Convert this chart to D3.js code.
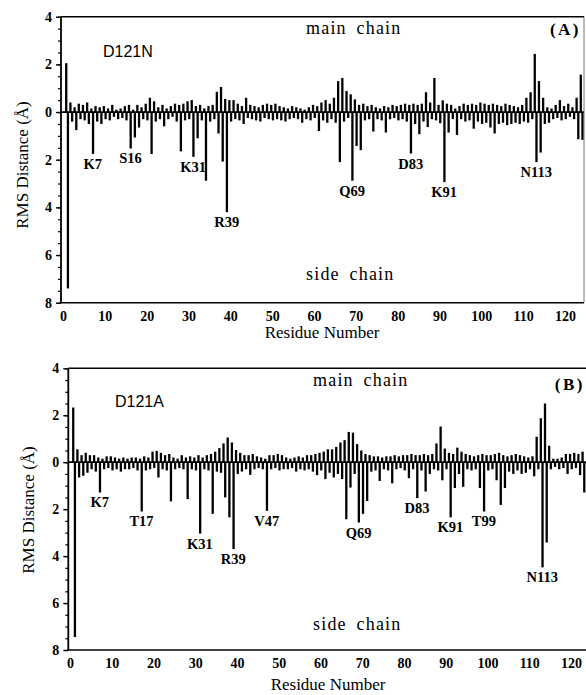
<!DOCTYPE html>
<html>
<head>
<meta charset="utf-8">
<script src="https://cdn.jsdelivr.net/npm/d3@7"></script>
<style>
  body { margin: 0; background: #fff; }
  svg { display: block; }
</style>
</head>
<body>
<svg id="chart" width="586" height="695"></svg>
<script>
const svg = d3.select("#chart");

// RMS distance per residue, panel A (D121N)
const mainA = [2.05, 0.4, 0.2, 0.35, 0.3, 0.4, 0.15, 0.25, 0.2, 0.25,
  0.15, 0.3, 0.1, 0.15, 0.25, 0.3, 0.1, 0.3, 0.2, 0.35,
  0.6, 0.45, 0.2, 0.3, 0.15, 0.25, 0.35, 0.3, 0.35, 0.45,
  0.5, 0.25, 0.3, 0.15, 0.25, 0.3, 0.85, 1.05, 0.55, 0.5,
  0.5, 0.35, 0.25, 0.6, 0.3, 0.25, 0.2, 0.3, 0.35, 0.3,
  0.35, 0.25, 0.2, 0.15, 0.25, 0.2, 0.15, 0.1, 0.2, 0.3,
  0.25, 0.4, 0.5, 0.35, 0.6, 1.3, 1.43, 0.88, 0.74, 0.53,
  0.3, 0.35, 0.25, 0.3, 0.2, 0.15, 0.25, 0.2, 0.3, 0.25,
  0.3, 0.35, 0.3, 0.35, 0.3, 0.35, 0.83, 0.4, 1.43, 0.3,
  0.49, 0.35, 0.3, 0.15, 0.25, 0.35, 0.3, 0.35, 0.3, 0.4,
  0.35, 0.3, 0.35, 0.3, 0.25, 0.35, 0.3, 0.25, 0.2, 0.3,
  0.6, 0.83, 2.44, 1.3, 0.6, 0.2, 0.15, 0.3, 0.5, 0.25,
  0.35, 0.2, 0.6, 1.57];
const sideA = [7.4, 0.4, 0.76, 0.3, 0.35, 0.5, 1.76, 0.4, 0.5, 0.3,
  0.35, 0.2, 0.3, 0.25, 0.35, 1.53, 1.07, 0.65, 0.3, 0.35,
  1.76, 0.4, 0.3, 0.6, 0.3, 0.2, 0.4, 1.65, 0.35, 0.3,
  1.88, 1.1, 0.35, 2.88, 0.4, 0.3, 0.9, 2.08, 4.2, 0.4,
  0.3, 0.35, 0.5, 0.25, 0.3, 0.35, 0.4, 0.25, 0.3, 0.35,
  0.3, 0.35, 0.4, 0.3, 0.25, 0.3, 0.45, 0.3, 0.35, 0.25,
  0.8, 0.35, 0.45, 0.3, 0.45, 2.1, 0.4, 0.25, 2.88, 1.42,
  1.6, 0.35, 0.3, 0.82, 0.3, 0.35, 0.86, 0.3, 0.25, 0.35,
  0.3, 0.4, 1.74, 0.5, 0.93, 0.4, 0.63, 0.3, 0.35, 0.47,
  2.94, 0.86, 0.3, 0.96, 0.3, 0.4, 0.35, 0.7, 0.4, 0.5,
  0.45, 0.65, 0.9, 0.5, 0.45, 0.55, 0.5, 0.45, 0.5, 0.4,
  0.45, 0.3, 2.1, 1.7, 0.5, 0.45, 0.3, 0.25, 0.35, 0.3,
  0.2, 0.3, 1.14, 1.17];
const labelResA = [7, 16, 31, 39, 69, 83, 91, 113];
const labelTextA = ["K7", "S16", "K31", "R39", "Q69", "D83", "K91", "N113"];

// RMS distance per residue, panel B (D121A)
const mainB = [2.33, 0.55, 0.3, 0.4, 0.3, 0.3, 0.2, 0.15, 0.25, 0.25,
  0.2, 0.15, 0.2, 0.15, 0.2, 0.2, 0.15, 0.25, 0.2, 0.45,
  0.48, 0.4, 0.3, 0.35, 0.2, 0.15, 0.3, 0.2, 0.25, 0.2,
  0.3, 0.2, 0.3, 0.35, 0.45, 0.6, 0.8, 1.05, 0.84, 0.52,
  0.4, 0.3, 0.3, 0.35, 0.25, 0.2, 0.15, 0.3, 0.3, 0.35,
  0.3, 0.2, 0.15, 0.2, 0.25, 0.2, 0.3, 0.3, 0.35, 0.4,
  0.45, 0.55, 0.55, 0.65, 0.84, 0.94, 1.29, 1.26, 0.77, 0.5,
  0.35, 0.3, 0.25, 0.25, 0.2, 0.25, 0.25, 0.3, 0.25, 0.3,
  0.3, 0.35, 0.3, 0.3, 0.35, 0.3, 0.35, 0.8, 1.52, 0.58,
  0.4, 0.35, 0.62, 0.45, 0.35, 0.3, 0.25, 0.3, 0.35, 0.3,
  0.3, 0.35, 0.4, 0.3, 0.25, 0.3, 0.35, 0.3, 0.25, 0.2,
  0.25, 1.08, 1.87, 2.5, 0.7, 0.15, 0.15, 0.2, 0.35, 0.35,
  0.4, 0.35, 0.45];
const sideB = [7.45, 0.65, 0.58, 0.45, 0.3, 0.4, 1.29, 0.3, 0.25, 0.35,
  0.3, 0.4, 0.3, 0.3, 0.25, 0.35, 2.1, 0.35, 0.3, 0.25,
  0.65, 0.3, 0.35, 1.67, 0.3, 0.25, 0.3, 1.57, 0.3, 0.35,
  3.04, 0.3, 0.35, 2.2, 0.4, 0.45, 1.5, 2.35, 3.7, 0.5,
  0.4, 0.3, 0.54, 0.3, 0.25, 0.3, 2.07, 0.3, 0.25, 0.35,
  0.3, 0.3, 0.25, 0.4, 0.3, 0.35, 0.3, 0.4, 0.55, 0.35,
  0.72, 0.45, 0.65, 0.5, 0.72, 2.43, 1.08, 0.5, 2.57, 2.2,
  1.65, 0.4, 0.35, 0.8, 0.3, 0.35, 0.9, 0.3, 0.25, 0.35,
  0.68, 0.3, 1.53, 0.35, 1.25, 0.5, 0.3, 0.35, 0.77, 0.3,
  2.35, 1.1, 0.5, 1.05, 0.3, 0.35, 0.3, 1.1, 2.1, 0.35,
  0.3, 0.77, 1.82, 1.1, 0.4, 0.5, 0.35, 0.5, 0.45, 0.3,
  0.6, 0.3, 4.48, 3.42, 0.3, 0.2, 0.3, 0.25, 0.5, 0.3,
  0.25, 0.55, 1.29];
const labelResB = [7, 17, 31, 39, 47, 69, 83, 91, 99, 113];
const labelTextB = ["K7", "T17", "K31", "R39", "V47", "Q69", "D83", "K91", "T99", "N113"];

const xTicks = [0, 10, 20, 30, 40, 50, 60, 70, 80, 90, 100, 110, 120];
const yTicks = [4, 2, 0, -2, -4, -6, -8];
const yMinorTicks = d3.range(-8, 4.01, 0.5);

const serif = "'Liberation Serif', 'DejaVu Serif', serif";
const sans = "'Liberation Sans', Arial, sans-serif";

const panels = [
  { main: mainA, side: sideA, labelRes: labelResA, labelText: labelTextA,
    name: "D121N", tag: "(A)",
    axisX: 61, x0: 63, x120: 565, right: 584, top: 16.7, bottom: 302.7, rightBorder: true,
    nameXY: [103, 57], tagXY: [581, 35], mainXY: [306, 34], sideXY: [306, 280],
    yTitleXY: [22, 165], xTitleXY: [322, 338] },
  { main: mainB, side: sideB, labelRes: labelResB, labelText: labelTextB,
    name: "D121A", tag: "(B)",
    axisX: 68.3, x0: 70, x120: 571, right: 600, top: 368.3, bottom: 650, rightBorder: false,
    nameXY: [115, 407], tagXY: [585, 390], mainXY: [313, 386], sideXY: [313, 630],
    yTitleXY: [28, 510], xTitleXY: [328, 690] }
];

panels.forEach(p => {
  const x = d3.scaleLinear().domain([0, 120]).range([p.x0, p.x120]);
  const y = d3.scaleLinear().domain([4, -8]).range([p.top, p.bottom]);
  const g = svg.append("g");

  const data = p.main.map((v, i) => ({ res: i + 1, main: v, side: p.side[i] }));

  // main chain bars (up)
  g.selectAll("rect.main")
    .data(data)
    .join("rect")
    .attr("class", "main")
    .attr("x", d => x(d.res) - 2.1)
    .attr("width", 2.3)
    .attr("y", d => y(d.main))
    .attr("height", d => y(0) - y(d.main))
    .attr("fill", "#000");

  // side chain bars (down)
  g.selectAll("rect.side")
    .data(data)
    .join("rect")
    .attr("class", "side")
    .attr("x", d => x(d.res) - 0.4)
    .attr("width", 2.3)
    .attr("y", y(0))
    .attr("height", d => y(-d.side) - y(0))
    .attr("fill", "#000");

  // zero line
  g.append("line")
    .attr("x1", p.axisX).attr("x2", p.right)
    .attr("y1", y(0)).attr("y2", y(0))
    .attr("stroke", "#000").attr("stroke-width", 1.8);

  // frame
  g.append("line")
    .attr("x1", p.axisX).attr("x2", p.right)
    .attr("y1", p.top).attr("y2", p.top)
    .attr("stroke", "#000").attr("stroke-width", 1.4);
  g.append("line")
    .attr("x1", p.axisX).attr("x2", p.right)
    .attr("y1", p.bottom).attr("y2", p.bottom)
    .attr("stroke", "#000").attr("stroke-width", 1.6);
  if (p.rightBorder) {
    g.append("line")
      .attr("x1", p.right).attr("x2", p.right)
      .attr("y1", p.top).attr("y2", p.bottom)
      .attr("stroke", "#555").attr("stroke-width", 0.8);
  }

  // y axis: minor then major ticks
  g.append("g")
    .attr("transform", `translate(${p.axisX},0)`)
    .call(d3.axisLeft(y).tickValues(yMinorTicks).tickSize(3).tickFormat(""))
    .call(a => a.select(".domain").remove())
    .selectAll("line").attr("stroke-width", 1.2);

  const yAxis = g.append("g")
    .attr("transform", `translate(${p.axisX},0)`)
    .call(d3.axisLeft(y).tickValues(yTicks).tickSize(5).tickPadding(4).tickFormat(d => Math.abs(d)));
  yAxis.select(".domain").attr("stroke-width", 1.8).attr("d", `M0,${p.top}V${p.bottom}`);
  yAxis.selectAll("line").attr("stroke-width", 1.4);
  yAxis.selectAll("text")
    .attr("font-family", serif).attr("font-size", 14).attr("font-weight", "bold")
    .attr("fill", "#000");

  // x axis labels
  const xAxis = g.append("g")
    .attr("transform", `translate(0,${p.bottom})`)
    .call(d3.axisBottom(x).tickValues(xTicks).tickSize(0).tickPadding(8));
  xAxis.select(".domain").remove();
  xAxis.selectAll("text")
    .attr("font-family", serif).attr("font-size", 14).attr("font-weight", "bold")
    .attr("fill", "#000");

  // residue labels under side-chain peaks
  p.labelRes.forEach((r, i) => {
    g.append("text")
      .attr("x", x(r) + 0.5)
      .attr("y", y(-p.side[r - 1]) + 15)
      .attr("text-anchor", "middle")
      .attr("font-family", serif).attr("font-size", 14.5).attr("font-weight", "bold")
      .text(p.labelText[i]);
  });

  // texts
  g.append("text")
    .attr("x", p.nameXY[0]).attr("y", p.nameXY[1])
    .attr("font-family", sans).attr("font-size", 16)
    .text(p.name);
  g.append("text")
    .attr("x", p.tagXY[0]).attr("y", p.tagXY[1])
    .attr("text-anchor", "end")
    .attr("font-family", serif).attr("font-size", 17).attr("font-weight", "bold")
    .attr("letter-spacing", 2.5)
    .text(p.tag);
  g.append("text")
    .attr("x", p.mainXY[0]).attr("y", p.mainXY[1])
    .attr("font-family", serif).attr("font-size", 18).attr("letter-spacing", 1.2)
    .attr("word-spacing", 4)
    .text("main chain");
  g.append("text")
    .attr("x", p.sideXY[0]).attr("y", p.sideXY[1])
    .attr("font-family", serif).attr("font-size", 18).attr("letter-spacing", 1.2)
    .attr("word-spacing", 4)
    .text("side chain");
  g.append("text")
    .attr("transform", `translate(${p.yTitleXY[0]},${p.yTitleXY[1]}) rotate(-90)`)
    .attr("text-anchor", "middle")
    .attr("dy", "0.35em")
    .attr("font-family", serif).attr("font-size", 17)
    .text("RMS Distance (Å)");
  g.append("text")
    .attr("x", p.xTitleXY[0]).attr("y", p.xTitleXY[1])
    .attr("text-anchor", "middle")
    .attr("font-family", serif).attr("font-size", 17)
    .text("Residue Number");
});
</script>
</body>
</html>
